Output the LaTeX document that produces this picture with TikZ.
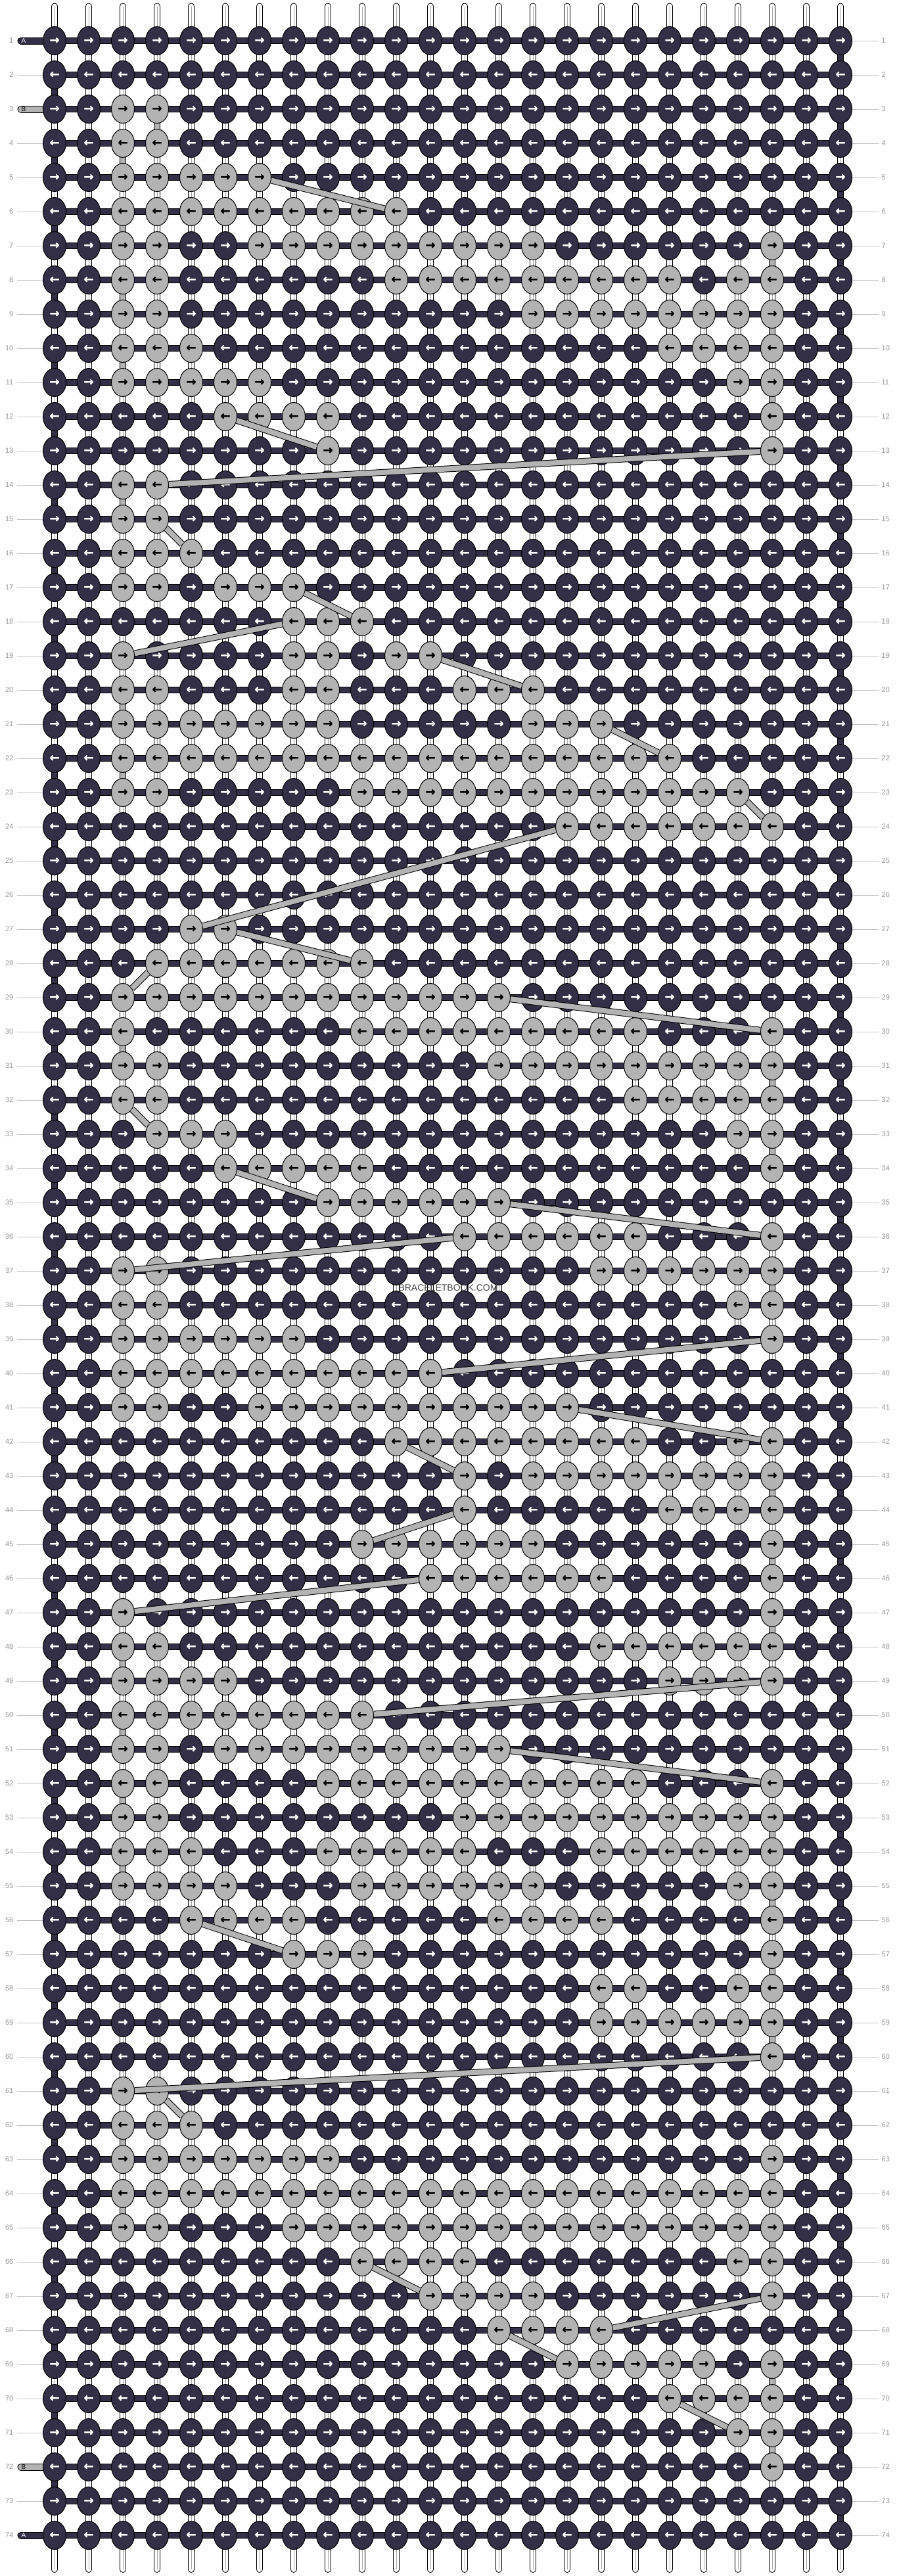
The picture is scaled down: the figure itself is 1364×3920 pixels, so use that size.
\documentclass[tikz,border=0pt]{standalone}
\usepackage{fontspec}
\setmainfont{Liberation Sans}
\newfontfamily\arrfont{DejaVu Sans Bold}[FakeBold=1.2]
\usetikzlibrary{shapes.geometric}
\definecolor{kd}{RGB}{50,47,70}
\definecolor{kl}{RGB}{179,179,179}
\definecolor{labc}{RGB}{150,150,150}
\definecolor{labl}{RGB}{195,195,195}
\definecolor{wmc}{RGB}{70,70,70}
\pgfdeclarelayer{strings}
\pgfdeclarelayer{bands}
\pgfsetlayers{strings,bands,main}
\tikzset{
 kn/.style={ellipse, draw=black, line width=0.3pt, minimum width=10.5pt, minimum height=12.9pt, inner sep=0pt, font=\arrfont\fontsize{5.4}{5.4}\selectfont},
 dk/.style={kn, fill=kd, text=white},
 lt/.style={kn, fill=kl, text=black},
 band/.style={draw=black, line width=0.3pt, double=kd, double distance=2.6pt},
 bseg/.style={draw=black, line width=0.3pt, double=kl, double distance=2.6pt},
 strip/.style={draw=black, line width=0.3pt, double=kl, double distance=2.4pt},
 wstr/.style={draw=black, line width=0.3pt, double=white, double distance=2.4pt, line cap=round},
 wmid/.style={draw=black!35, line width=0.3pt},
 lab/.style={text=labc, font=\fontsize{3.3}{4}\selectfont, inner sep=0pt},
 labline/.style={draw=labl, line width=0.3pt},
 stubletter/.style={font=\fontsize{3}{3.5}\selectfont, inner sep=0pt},
}
\begin{document}
\begin{tikzpicture}[x=0.3pt,y=-0.3pt]
\begin{pgfonlayer}{strings}
\fill[white] (0,0) rectangle (1364,3920);
\end{pgfonlayer}
\useasboundingbox (0,0) rectangle (1364,3920);
% light knot flags
\foreach \r/\a/\b in {3/3/4, 4/3/4, 5/3/7, 6/3/11,
 7/3/4, 7/7/15, 7/22/22, 8/3/4, 8/11/19, 8/21/22, 9/3/4, 9/15/22,
 10/3/5, 10/19/22, 11/3/7, 11/21/22, 12/6/9, 12/22/22, 13/9/9, 13/22/22,
 14/3/4, 15/3/4, 16/3/5, 17/3/4, 17/6/8, 18/8/10,
 19/3/3, 19/8/9, 19/11/12, 20/3/4, 20/8/9, 20/13/15, 21/3/9, 21/15/17,
 22/3/19, 23/3/4, 23/10/21, 24/16/22, 27/5/6, 28/4/10, 29/3/14,
 30/3/3, 30/10/18, 30/22/22, 31/3/4, 31/14/22, 32/3/4, 32/18/22,
 33/4/6, 33/21/22, 34/6/10, 34/22/22, 35/9/14, 36/13/18, 36/22/22,
 37/3/4, 37/17/22, 38/3/4, 38/21/22, 39/3/8, 39/22/22, 40/3/12,
 41/3/4, 41/7/16, 42/11/18, 42/21/22, 43/13/13, 43/15/22, 44/13/13, 44/19/22,
 45/10/15, 45/22/22, 46/12/17, 46/22/22, 47/3/3, 47/22/22, 48/3/4, 48/17/22,
 49/3/6, 49/19/22, 50/3/10, 51/3/4, 51/6/14, 52/3/4, 52/9/18, 52/22/22,
 53/3/4, 53/13/22, 54/3/5, 54/9/13, 54/17/22, 55/3/6, 55/10/15, 55/21/22,
 56/5/8, 56/14/17, 56/22/22, 57/8/10, 57/22/22, 58/17/18, 58/21/22, 59/17/22,
 60/22/22, 61/3/4, 62/3/5, 63/3/9, 63/22/22, 64/3/22, 65/3/4, 65/8/22,
 66/10/13, 66/21/22, 67/12/15, 67/22/22, 68/14/17, 69/16/20, 69/22/22,
 70/19/22, 71/21/22, 72/22/22}{
 \foreach \c in {\a,...,\b}{\expandafter\gdef\csname L@\r @\c\endcsname{}}}
% knots
\foreach \r in {1,...,74}{
 \ifodd\r\relax\gdef\ar{→}\else\gdef\ar{←}\fi
 \foreach \c in {1,...,24}{
  \ifcsname L@\r @\c\endcsname
   \node[lt] (k-\r-\c) at ({83+52*(\c-1)},{10+52*\r}) {\ar};
  \else
   \node[dk] (k-\r-\c) at ({83+52*(\c-1)},{10+52*\r}) {\ar};
  \fi}}
% vertical strings
\begin{pgfonlayer}{strings}
\foreach \c in {1,...,24}{
 \coordinate (st-\c) at ({83+52*(\c-1)},9.5);
 \coordinate (sb-\c) at ({83+52*(\c-1)},3910);
 \draw[wstr] (st-\c) -- (sb-\c);
 \draw[wmid] (st-\c) -- (sb-\c);
}
\end{pgfonlayer}
% bands, turns, B segments, stubs
\begin{pgfonlayer}{bands}
\foreach \r in {1,...,74}{\draw[band] (k-\r-1.center) -- (k-\r-24.center);}
\foreach \r [evaluate=\r as \s using int(\r+1)] in {1,3,...,73}{\draw[band] (k-\r-24.center) -- (k-\s-24.center);}
\foreach \r [evaluate=\r as \s using int(\r+1)] in {2,4,...,72}{\draw[band] (k-\r-1.center) -- (k-\s-1.center);}
\foreach \r/\c [evaluate=\r as \s using int(\r+1)] in {3/4, 4/3, 6/3, 7/22, 8/3, 9/22, 10/3, 11/22, 14/3, 16/3, 20/3, 22/3, 30/3, 31/22, 33/22, 37/22, 38/3, 40/3, 43/22, 45/22, 47/22, 48/3, 50/3, 52/3, 53/22, 54/3, 55/22, 57/22, 58/17, 59/22, 62/3, 63/22, 64/3, 65/22, 69/22, 71/22}{
 \draw[bseg] (k-\r-\c.center) -- (k-\s-\c.center);}
\foreach \r/\col in {1/kd, 74/kd, 3/kl, 72/kl}{
 \coordinate (sa-\r) at (32,{10+52*\r});
 \draw[draw=black, line width=0.3pt, double=\col, double distance=2.7pt, line cap=round] (sa-\r) -- (k-\r-1.center);}
\end{pgfonlayer}
\foreach \r/\t/\tc in {1/A/white, 74/A/white, 3/B/black, 72/B/black}{
 \node[stubletter, text=\tc] (let-\r) at (36,{10+52*\r}) {\t};}
% labels
\foreach \r in {1,...,74}{
 \node[lab, anchor=east] (nl-\r) at (21,{10+52*\r}) {\r};
 \node[lab, anchor=west] (nr-\r) at (1341,{10+52*\r}) {\r};
 \coordinate (lr-\r) at (1337,{10+52*\r});
 \draw[labline] (k-\r-24) -- (lr-\r);}
\foreach \r in {2,73}{\coordinate (ll-\r) at (26,{10+52*\r}); \draw[labline] (ll-\r) -- (k-\r-1);}
\foreach \r in {4,...,71}{\coordinate (ll-\r) at (26,{10+52*\r}); \draw[labline] (ll-\r) -- (k-\r-1);}
% strips
\foreach \ra/\ca/\rb/\cb in {5/7/6/11, 12/6/13/9, 13/22/14/4, 15/4/16/5, 17/8/18/10, 18/8/19/3, 19/12/20/15, 21/17/22/19, 23/21/24/22, 24/16/27/5, 27/6/28/10, 28/4/29/3, 29/14/30/22, 32/3/33/4, 34/6/35/9, 35/14/36/22, 36/13/37/3, 39/22/40/12, 41/16/42/22, 42/11/43/13, 44/13/45/10, 46/12/47/3, 49/22/50/10, 51/14/52/22, 56/5/57/8, 60/22/61/3, 61/4/62/5, 66/10/67/12, 67/22/68/17, 68/14/69/16, 70/19/71/21}{
 \draw[strip] (k-\ra-\ca) -- (k-\rb-\cb);}
% watermark
\node[text=wmc, font=\fontsize{4.2}{5}\selectfont, inner sep=0pt] (wm) at (682,1960) {BRACELETBOOK.COM};
\end{tikzpicture}
\end{document}
